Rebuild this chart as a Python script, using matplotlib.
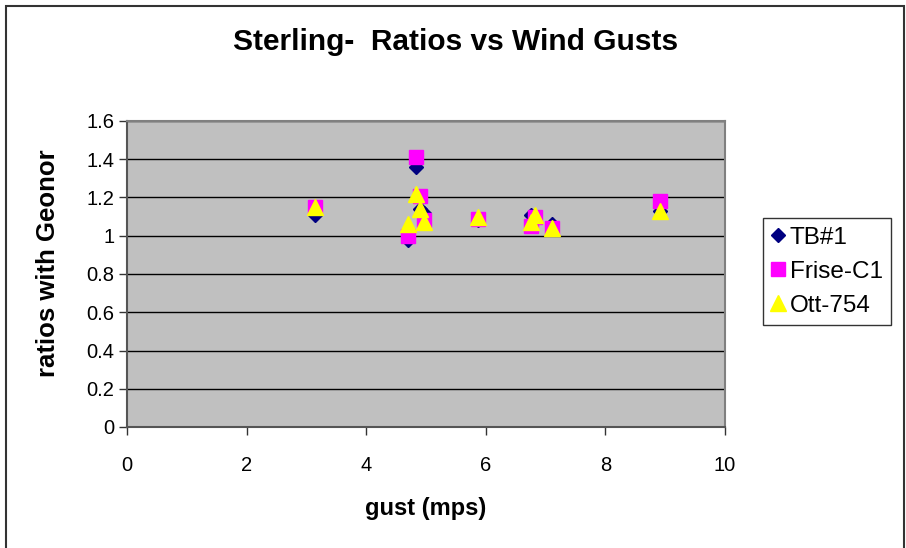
import matplotlib
matplotlib.use("Agg")
import matplotlib.pyplot as plt
from matplotlib.patches import Rectangle

plt.rcParams['font.family'] = ['Liberation Sans', 'DejaVu Sans']

# Gust speed (m/s) for each event
gust = [3.15, 4.70, 4.84, 4.90, 4.97, 5.87, 6.75, 6.82, 7.10, 8.91]
# Catch ratios relative to the Geonor gauge
tb1 = [1.11, 0.98, 1.36, 1.14, 1.12, 1.08, 1.11, 1.10, 1.06, 1.13]
frise_c1 = [1.15, 1.00, 1.41, 1.21, 1.08, 1.09, 1.05, 1.10, 1.04, 1.18]
ott_754 = [1.15, 1.06, 1.22, 1.14, 1.07, 1.10, 1.07, 1.11, 1.04, 1.13]

x_ticks = [0, 2, 4, 6, 8, 10]
y_ticks = [0, 0.2, 0.4, 0.6, 0.8, 1, 1.2, 1.4, 1.6]
y_tick_labels = ['0', '0.2', '0.4', '0.6', '0.8', '1', '1.2', '1.4', '1.6']

fig = plt.figure(figsize=(9.06, 5.48), dpi=100)
ax = fig.add_axes([127 / 906, 1 - 427 / 548, 598 / 906, 306 / 548])

ax.set_facecolor('#C0C0C0')
ax.set_xlim(0, 10)
ax.set_ylim(0, 1.6)
ax.set_xticks(x_ticks)
ax.set_xticklabels([str(t) for t in x_ticks])
ax.set_yticks(y_ticks)
ax.set_yticklabels(y_tick_labels)
ax.tick_params(axis='both', direction='out', length=6, width=1, color='#333333',
               labelsize=14.5, pad=3)
ax.tick_params(axis='x', pad=15)
ax.grid(axis='y', color='black', linewidth=1)
ax.set_axisbelow(True)

for side in ('top', 'right'):
    ax.spines[side].set_color('#808080')
    ax.spines[side].set_linewidth(1.5)
for side in ('left', 'bottom'):
    ax.spines[side].set_color('#555555')
    ax.spines[side].set_linewidth(1.5)

ax.plot(gust, tb1, linestyle='none', marker='D', markersize=7.5,
        color='#000080', label='TB#1', zorder=3)
ax.plot(gust, frise_c1, linestyle='none', marker='s', markersize=10,
        color='#FF00FF', label='Frise-C1', zorder=4)
ax.plot(gust, ott_754, linestyle='none', marker='^', markersize=11,
        color='#FFFF00', label='Ott-754', zorder=5)

fig.text(426 / 906, 1 - 508 / 548, 'gust (mps)', ha='center', va='center',
         fontsize=17, fontweight='bold')
fig.text(48 / 906, 1 - 263 / 548, 'ratios with Geonor', ha='center', va='center',
         rotation=90, fontsize=18.5, fontweight='bold')

fig.text(456 / 906, 1 - 42 / 548, 'Sterling-  Ratios vs Wind Gusts',
         ha='center', va='center', fontsize=21.5, fontweight='bold')

leg = fig.legend(loc='upper left', bbox_to_anchor=(763 / 906, 1 - 218 / 548),
                 fontsize=17.5, frameon=True, fancybox=False, edgecolor='black',
                 handlelength=0.55, handletextpad=0.2, borderpad=0.35,
                 labelspacing=0.5, borderaxespad=0)
leg.get_frame().set_linewidth(1)

# Chart-area border
fig.patches.append(Rectangle((6 / 906, -0.05), 898 / 906, 1.05 - 6 / 548,
                             transform=fig.transFigure, fill=False,
                             edgecolor='#333333', linewidth=1.5))

fig.savefig('out.png', dpi=100)
